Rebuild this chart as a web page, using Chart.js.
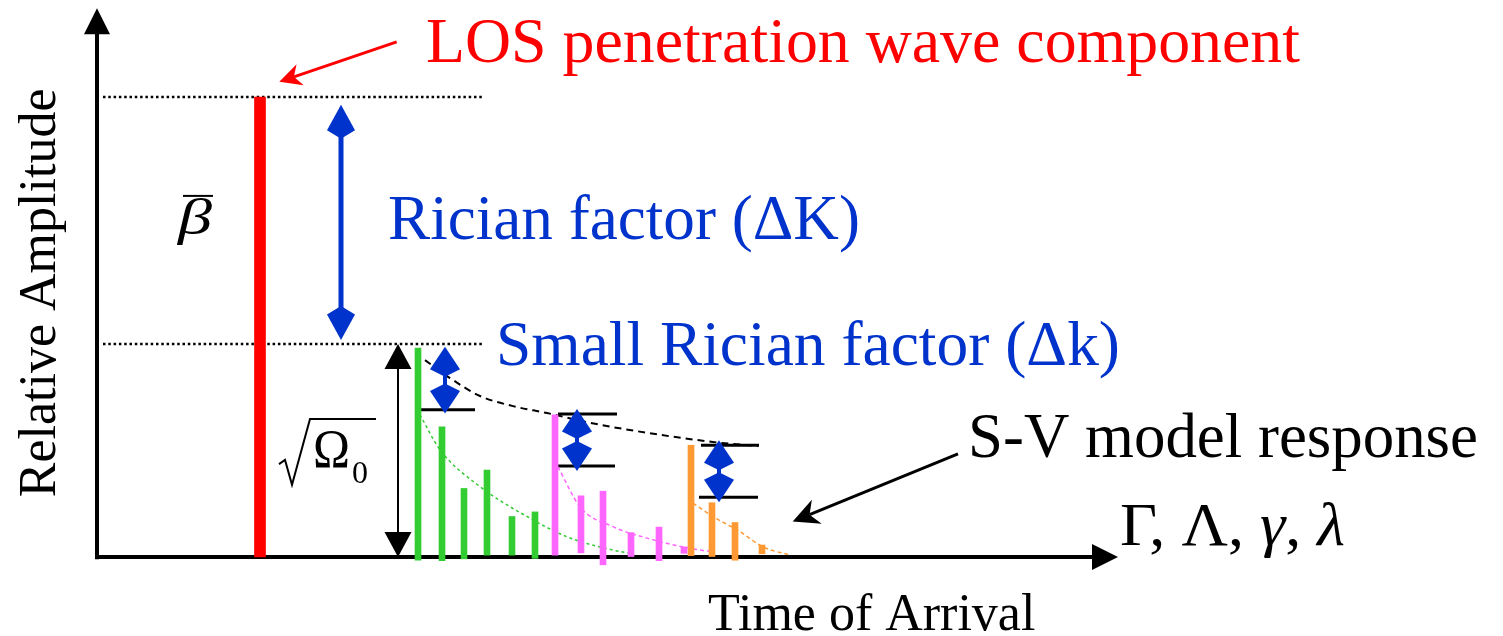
<!DOCTYPE html>
<html>
<head>
<meta charset="utf-8">
<script src="https://cdn.jsdelivr.net/npm/chart.js@4.4.0/dist/chart.umd.min.js"></script>
<style>
  html, body { margin: 0; padding: 0; background: #fff; }
</style>
</head>
<body>
<canvas id="chart_1" width="1503" height="636"></canvas>
<script>
// x = time of arrival (arbitrary units), y = relative amplitude (LOS peak = 1)
var losX = [16.3];
var losTop = [1];
var losBase = [0];

var greenX = [32.1, 34.5, 36.7, 39.0, 41.5, 43.8];
var greenTop = [0.454, 0.283, 0.149, 0.189, 0.088, 0.098];
var greenBase = [-0.007, -0.008, -0.004, 0.004, 0.004, -0.003];

var pinkX = [45.8, 48.4, 50.6, 53.4, 56.2, 58.7];
var pinkTop = [0.309, 0.133, 0.143, 0.053, 0.065, 0.022];
var pinkBase = [0.004, 0.009, -0.017, 0.001, -0.008, 0.008];

var orangeX = [59.4, 61.5, 63.8, 66.5];
var orangeTop = [0.243, 0.118, 0.075, 0.026];
var orangeBase = [0.003, 0.001, -0.007, 0.007];

// cluster envelope (black dashed)
var envX = [32.8, 35.3, 38.3, 41.6, 45.0, 49.0, 55.0, 61.6, 66.1];
var envY = [0.428, 0.389, 0.350, 0.328, 0.313, 0.293, 0.270, 0.250, 0.241];

// ray decay inside each cluster
var greenDecX = [32.3, 34.3, 38.3, 43.0, 47.0, 51.6, 53.6];
var greenDecY = [0.309, 0.233, 0.153, 0.088, 0.044, 0.015, 0.007];
var pinkDecX = [46.1, 48.3, 51.6, 55.0, 60.3, 61.6];
var pinkDecY = [0.196, 0.109, 0.066, 0.041, 0.015, 0.012];
var orangeDecX = [59.6, 61.6, 64.3, 66.6, 69.3];
var orangeDecY = [0.117, 0.088, 0.055, 0.022, 0.004];

// reference levels (dotted)
var levelX = [0.6, 38.6];
var levelY = [1, 0.463];

// short marker bars beside the cluster heads: [x0, x1, y]
var markers = [
  [32.0, 37.8, 0.320],
  [46.1, 52.0, 0.311],
  [46.0, 51.8, 0.198],
  [60.4, 66.2, 0.243],
  [60.2, 66.1, 0.130]
];

var RED = '#ff0000', BLUE = '#0033cc', GREEN = '#33cc33', PINK = '#ff66ff', ORANGE = '#ff9933';

function bars(xs, tops, bases) {
  return xs.map(function(x, i) { return { x: x, y: [bases[i], tops[i]] }; });
}
function pts(xs, ys) {
  return xs.map(function(x, i) { return { x: x, y: ys[i] }; });
}

var datasets = [
  { type: 'bar', data: bars(losX, losTop, losBase), backgroundColor: RED, barThickness: 11, grouped: false, clip: false },
  { type: 'bar', data: bars(greenX, greenTop, greenBase), backgroundColor: GREEN, barThickness: 6, grouped: false, clip: false },
  { type: 'bar', data: bars(pinkX, pinkTop, pinkBase), backgroundColor: PINK, barThickness: 6, grouped: false, clip: false },
  { type: 'bar', data: bars(orangeX, orangeTop, orangeBase), backgroundColor: ORANGE, barThickness: 6, grouped: false, clip: false },
  { type: 'line', data: pts(envX, envY), borderColor: '#000', borderWidth: 2, borderDash: [7, 5], pointRadius: 0, cubicInterpolationMode: 'monotone', clip: false },
  { type: 'line', data: pts(greenDecX, greenDecY), borderColor: GREEN, borderWidth: 1.5, borderDash: [3, 3], pointRadius: 0, cubicInterpolationMode: 'monotone', clip: false },
  { type: 'line', data: pts(pinkDecX, pinkDecY), borderColor: PINK, borderWidth: 1.5, borderDash: [4, 3], pointRadius: 0, cubicInterpolationMode: 'monotone', clip: false },
  { type: 'line', data: pts(orangeDecX, orangeDecY), borderColor: ORANGE, borderWidth: 1.5, borderDash: [4, 3], pointRadius: 0, cubicInterpolationMode: 'monotone', clip: false }
];
levelY.forEach(function(y) {
  datasets.push({ type: 'line', data: pts(levelX, [y, y]), borderColor: '#000', borderWidth: 2.5, borderDash: [2.5, 2.8], pointRadius: 0, clip: false });
});
markers.forEach(function(m) {
  datasets.push({ type: 'line', data: pts([m[0], m[1]], [m[2], m[2]]), borderColor: '#000', borderWidth: 3, pointRadius: 0, clip: false });
});

// arrowheads: kind 'tri' = triangle, 'kite' = diamond-like, 'stealth' = notched
function head(ctx, tx, ty, ang, len, wid, kind) {
  var c = Math.cos(ang), s = Math.sin(ang);
  function p(a, b) { return [tx - a * c - b * s, ty - a * s + b * c]; }
  var pl;
  if (kind === 'kite') pl = [p(0, 0), p(len * 0.75, wid / 2), p(len, 0), p(len * 0.75, -wid / 2)];
  else if (kind === 'stealth') pl = [p(0, 0), p(len, wid / 2), p(len * 0.7, 0), p(len, -wid / 2)];
  else pl = [p(0, 0), p(len, wid / 2), p(len, -wid / 2)];
  ctx.beginPath();
  ctx.moveTo(pl[0][0], pl[0][1]);
  for (var i = 1; i < pl.length; i++) ctx.lineTo(pl[i][0], pl[i][1]);
  ctx.closePath();
  ctx.fill();
}
function arrow(ctx, x1, y1, x2, y2, o) {
  var ang = Math.atan2(y2 - y1, x2 - x1);
  var back = o.kind === 'stealth' ? o.len * 0.7 : o.len * 0.9;
  var c = Math.cos(ang), s = Math.sin(ang);
  var sx = x1, sy = y1;
  if (o.both) { sx = x1 + back * c; sy = y1 + back * s; }
  ctx.strokeStyle = o.color; ctx.fillStyle = o.color; ctx.lineWidth = o.lw;
  ctx.beginPath();
  ctx.moveTo(sx, sy);
  ctx.lineTo(x2 - back * c, y2 - back * s);
  ctx.stroke();
  head(ctx, x2, y2, ang, o.len, o.wid, o.kind);
  if (o.both) head(ctx, x1, y1, ang + Math.PI, o.len, o.wid, o.kind);
}
// width = null keeps the natural width of the text
function label(ctx, parts, x, y, width, color, rot) {
  ctx.save();
  var total = 0;
  parts.forEach(function(p) { ctx.font = p[1]; total += ctx.measureText(p[0]).width; });
  ctx.translate(x, y);
  if (rot) ctx.rotate(rot);
  if (width) ctx.scale(width / total, 1);
  ctx.fillStyle = color;
  ctx.textBaseline = 'alphabetic';
  var cx = 0;
  parts.forEach(function(p) { ctx.font = p[1]; ctx.fillText(p[0], cx, 0); cx += ctx.measureText(p[0]).width; });
  ctx.restore();
}

var SERIF = "'Liberation Serif', 'Times New Roman', serif";

var decor = {
  id: 'decor',
  beforeDatasetsDraw: function(chart) {
    var ctx = chart.ctx, xs = chart.scales.x, ys = chart.scales.y;
    var X = function(v) { return xs.getPixelForValue(v); };
    var Y = function(v) { return ys.getPixelForValue(v); };
    ctx.save();
    // axes with arrowheads
    arrow(ctx, X(0), Y(-0.005), X(0), Y(1.193), { color: '#000', lw: 4, len: 26, wid: 26, kind: 'tri' });
    arrow(ctx, X(-0.2), Y(0), X(102.1), Y(0), { color: '#000', lw: 4, len: 26, wid: 26, kind: 'tri' });
    ctx.restore();
  },
  afterDatasetsDraw: function(chart) {
    var ctx = chart.ctx, xs = chart.scales.x, ys = chart.scales.y;
    var X = function(v) { return xs.getPixelForValue(v); };
    var Y = function(v) { return ys.getPixelForValue(v); };
    ctx.save();

    // Rician factor double arrows
    arrow(ctx, X(24.4), Y(0.983), X(24.4), Y(0.472), { color: BLUE, lw: 5, len: 34, wid: 28, kind: 'kite', both: true });
    arrow(ctx, X(34.8), Y(0.457), X(34.8), Y(0.312), { color: BLUE, lw: 4, len: 30, wid: 30, kind: 'kite', both: true });
    arrow(ctx, X(48.0), Y(0.322), X(48.0), Y(0.187), { color: BLUE, lw: 4, len: 30, wid: 30, kind: 'kite', both: true });
    arrow(ctx, X(62.2), Y(0.254), X(62.2), Y(0.119), { color: BLUE, lw: 4, len: 30, wid: 30, kind: 'kite', both: true });
    // sqrt(Omega0) span
    arrow(ctx, X(30.1), Y(0.463), X(30.1), Y(0), { color: '#000', lw: 2, len: 25, wid: 27, kind: 'tri', both: true });
    // pointers
    arrow(ctx, X(29.97), Y(1.120), X(18.23), Y(1.033), { color: RED, lw: 3, len: 22, wid: 22, kind: 'stealth' });
    arrow(ctx, X(86.1), Y(0.224), X(69.57), Y(0.077), { color: '#000', lw: 3, len: 26, wid: 26, kind: 'stealth' });

    // texts
    label(ctx, [['LOS penetration wave component', '64px ' + SERIF]], X(32.9), Y(1.076), 874, RED);
    label(ctx, [['Rician factor (\u0394K)', '63px ' + SERIF]], X(29.1), Y(0.691), 472, BLUE);
    label(ctx, [['Small Rician factor (\u0394k)', '63px ' + SERIF]], X(39.9), Y(0.417), 624, BLUE);
    label(ctx, [['S-V model response', '63px ' + SERIF]], X(87.1), Y(0.217), 510, '#000');
    label(ctx, [['\u0393, \u039b, ', '62px ' + SERIF], ['\u03b3', 'italic 62px ' + SERIF], [', ', '62px ' + SERIF], ['\u03bb', 'italic 62px ' + SERIF]],
      X(102.3), Y(0.026), 225, '#000');
    label(ctx, [['Time of Arrival', '52px ' + SERIF]], X(61.1), Y(-0.159), null, '#000');
    label(ctx, [['Relative Amplitude', '52px ' + SERIF]], X(-4.2), Y(0.13), null, '#000', -Math.PI / 2);

    // beta bar
    label(ctx, [['\u03b2', 'italic 50px ' + SERIF]], X(8.1), Y(0.702), 34, '#000');
    ctx.strokeStyle = '#000'; ctx.lineWidth = 2;
    ctx.beginPath(); ctx.moveTo(X(8.6), Y(0.785)); ctx.lineTo(X(11.6), Y(0.785)); ctx.stroke();

    // sqrt(Omega_0)
    ctx.lineWidth = 2; ctx.lineJoin = 'miter';
    ctx.beginPath();
    ctx.moveTo(X(18.2), Y(0.202));
    ctx.lineTo(X(18.8), Y(0.211));
    ctx.lineTo(X(19.5), Y(0.157));
    ctx.lineTo(X(21.3), Y(0.300));
    ctx.lineTo(X(27.9), Y(0.300));
    ctx.stroke();
    label(ctx, [['\u03a9', '54px ' + SERIF]], X(21.6), Y(0.196), 37, '#000');
    label(ctx, [['0', '32px ' + SERIF]], X(25.5), Y(0.161), 16, '#000');

    ctx.restore();
  }
};

var ctx = document.getElementById('chart_1').getContext('2d');
var chart = new Chart(ctx, {
  type: 'bar',
  data: { datasets: datasets },
  options: {
    responsive: false,
    animation: false,
    layout: { padding: { left: 97, right: 386, top: 97, bottom: 79 } },
    plugins: { legend: { display: false }, tooltip: { enabled: false }, title: { display: false } },
    scales: {
      x: { type: 'linear', min: 0, max: 102, offset: false, display: false },
      y: { type: 'linear', min: 0, max: 1, display: false }
    }
  },
  plugins: [decor]
});
</script>
</body>
</html>
